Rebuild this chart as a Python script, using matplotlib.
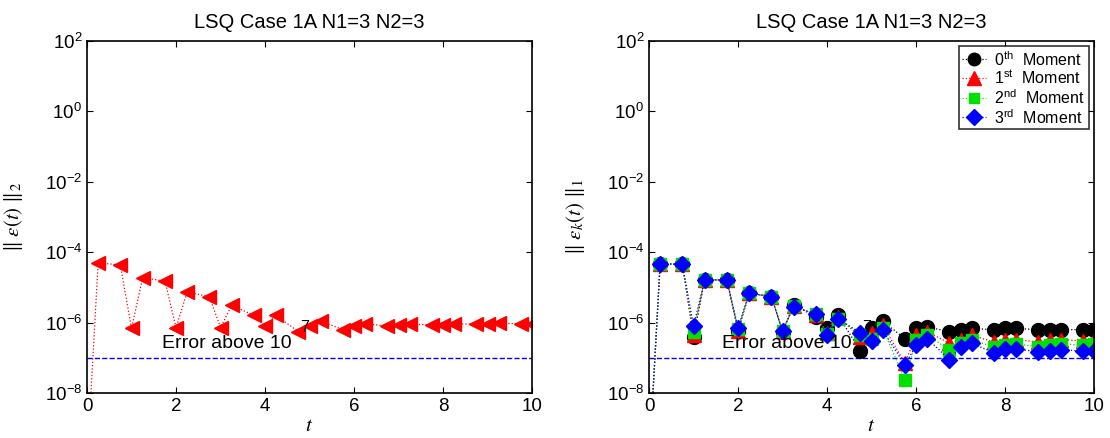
import math
import matplotlib
matplotlib.use("Agg")
import matplotlib.pyplot as plt
from matplotlib.ticker import FixedLocator, FuncFormatter

plt.rcParams['font.family'] = ['Liberation Sans', 'DejaVu Sans']
plt.rcParams['mathtext.fontset'] = 'stix'

# time grid
t = [0, 0.25, 0.75, 1.0, 1.25, 1.75, 2.0, 2.25, 2.75, 3.0, 3.25, 3.75, 4.0,
     4.25, 4.75, 5.0, 5.25, 5.75, 6.0, 6.25, 6.75, 7.0, 7.25, 7.75, 8.0,
     8.25, 8.75, 9.0, 9.25, 9.75, 10.0]

# left: 2-norm of error
err2 = [1e-10, 5.0e-5, 4.3e-5, 6.8e-7, 1.9e-5, 1.5e-5, 7.2e-7, 7.4e-6, 5.4e-6,
        7.2e-7, 3.1e-6, 1.6e-6, 7.9e-7, 1.6e-6, 5.5e-7, 8.0e-7, 1.1e-6, 6.3e-7,
        8.1e-7, 9.3e-7, 8.0e-7, 8.6e-7, 9.3e-7, 8.4e-7, 8.8e-7, 9.3e-7, 9.0e-7,
        9.3e-7, 9.5e-7, 9.3e-7, 9.3e-7]

# right: 1-norm of each moment error
m0 = [1e-10, 4.7e-5, 4.5e-5, 3.8e-7, 1.66e-5, 1.6e-5, 5.8e-7, 6.9e-6, 5.4e-6,
      5.5e-7, 3.2e-6, 1.45e-6, 6.8e-7, 1.6e-6, 1.55e-7, 6.8e-7, 1.1e-6, 3.5e-7,
      6.8e-7, 7.5e-7, 5.5e-7, 6.3e-7, 6.8e-7, 6.3e-7, 6.8e-7, 6.8e-7, 6.3e-7,
      6.3e-7, 6.3e-7, 6.3e-7, 6.3e-7]
m1 = [1e-10, 4.7e-5, 4.5e-5, 4.3e-7, 1.66e-5, 1.6e-5, 5.8e-7, 6.9e-6, 5.4e-6,
      5.8e-7, 3.0e-6, 1.6e-6, 5.2e-7, 1.4e-6, 3.9e-7, 4.9e-7, 8.5e-7, 7.0e-8,
      4.4e-7, 5.5e-7, 2.6e-7, 3.2e-7, 4.4e-7, 2.8e-7, 3.2e-7, 3.3e-7, 2.8e-7,
      3.2e-7, 3.3e-7, 3.0e-7, 3.2e-7]
m2 = [1e-10, 4.7e-5, 4.5e-5, 5.5e-7, 1.66e-5, 1.6e-5, 6.4e-7, 6.9e-6, 5.4e-6,
      5.8e-7, 2.9e-6, 1.7e-6, 4.8e-7, 1.3e-6, 4.5e-7, 3.5e-7, 7.0e-7, 2.3e-8,
      3.2e-7, 4.5e-7, 1.65e-7, 2.6e-7, 3.2e-7, 2.05e-7, 2.3e-7, 2.5e-7, 2.05e-7,
      2.3e-7, 2.5e-7, 2.3e-7, 2.4e-7]
m3 = [1e-10, 4.7e-5, 4.5e-5, 8.0e-7, 1.66e-5, 1.6e-5, 7.2e-7, 6.9e-6, 5.4e-6,
      5.8e-7, 2.75e-6, 1.8e-6, 4.4e-7, 1.26e-6, 5.1e-7, 3.0e-7, 6.1e-7, 6.2e-8,
      2.3e-7, 3.5e-7, 8.9e-8, 2.05e-7, 2.6e-7, 1.38e-7, 1.74e-7, 1.8e-7, 1.47e-7,
      1.6e-7, 1.7e-7, 1.55e-7, 1.6e-7]

threshold = 1e-7
title = 'LSQ Case 1A N1=3 N2=3'

fig = plt.figure(figsize=(11.1, 4.38), dpi=100)
ax1 = fig.add_axes([0.0784, 0.1027, 0.401, 0.804])
ax2 = fig.add_axes([0.5847, 0.1027, 0.401, 0.804])


def style(ax, ylabel):
    ax.set_yscale('log')
    ax.set_xlim(0, 10)
    ax.set_ylim(1e-8, 1e2)
    ax.xaxis.set_major_locator(FixedLocator([0, 2, 4, 6, 8, 10]))
    ax.yaxis.set_major_locator(FixedLocator([1e-8, 1e-6, 1e-4, 1e-2, 1e0, 1e2]))
    ax.yaxis.set_minor_locator(FixedLocator([]))
    ax.yaxis.set_major_formatter(FuncFormatter(
        lambda v, p: r'$\mathregular{10^{%d}}$' % round(math.log10(v))))
    ax.tick_params(direction='in', top=True, right=True, length=4,
                   labelsize=13.5, width=0.8)
    for s in ax.spines.values():
        s.set_linewidth(1.2)
    ax.set_title(title, fontsize=14.5, pad=9)
    ax.set_xlabel(r'$t$', fontsize=15, labelpad=1)
    ax.set_ylabel(ylabel, fontsize=15, labelpad=14)
    ax.axhline(threshold, color='blue', linestyle='--', linewidth=1)


style(ax1, r'$\|\ \varepsilon(t)\ \|_2$')
ax1.plot(t, err2, color='red', linestyle=':', linewidth=0.9, marker='<',
         markersize=10.5, markerfacecolor='red', markeredgecolor='red')
ax1.text(1.69, 2.6e-7, 'Error above 10', fontsize=14, va='center', ha='left')
ax1.text(4.78, 7.4e-7, '7', fontsize=11.5, va='center', ha='left')

style(ax2, r'$\|\ \varepsilon_k(t)\ \|_1$')
ax2.plot(t, m0, color='black', linestyle=':', linewidth=0.9, marker='o',
         markersize=10, label=r'0$^{\mathregular{th}}$  Moment')
ax2.plot(t, m1, color='red', linestyle=':', linewidth=0.9, marker='^',
         markersize=10.5, label=r'1$^{\mathregular{st}}$  Moment')
ax2.plot(t, m2, color='#00e000', linestyle=':', linewidth=0.9, marker='s',
         markersize=8, label=r'2$^{\mathregular{nd}}$  Moment')
ax2.plot(t, m3, color='blue', linestyle=':', linewidth=0.9, marker='D',
         markersize=8.5, label=r'3$^{\mathregular{rd}}$  Moment')
ax2.text(1.63, 2.6e-7, 'Error above 10', fontsize=14, va='center', ha='left')
ax2.text(4.78, 7.4e-7, '7', fontsize=11.5, va='center', ha='left')

leg = ax2.legend(loc='upper right', fontsize=11.5, frameon=True, fancybox=False,
                 borderaxespad=0.35, handlelength=1.5, labelspacing=0.1,
                 borderpad=0.2, handletextpad=0.5, markerscale=0.9)
leg.get_frame().set_edgecolor('black')
leg.get_frame().set_linewidth(1.2)

fig.savefig('out.png', dpi=100)
